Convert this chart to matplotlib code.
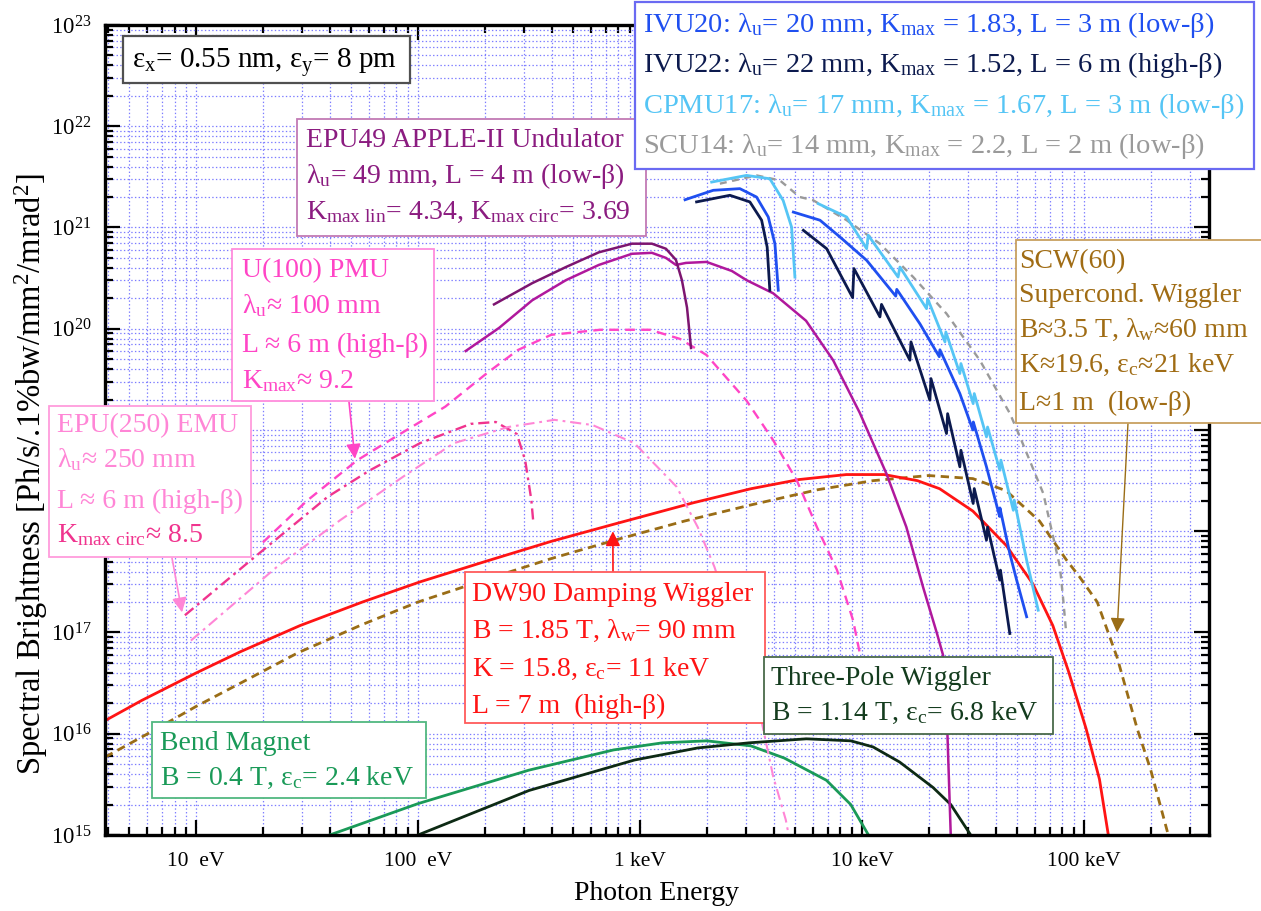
import numpy as np
import matplotlib
matplotlib.use('Agg')
import matplotlib.pyplot as plt
from matplotlib.patches import Rectangle
from matplotlib.ticker import LogLocator, NullFormatter

plt.rcParams['font.family'] = ['Liberation Serif', 'DejaVu Serif']
plt.rcParams['mathtext.fontset'] = 'custom'
plt.rcParams['mathtext.rm'] = 'Liberation Serif'
plt.rcParams['mathtext.it'] = 'Liberation Serif:italic'
plt.rcParams['lines.scale_dashes'] = False

# ---- data (photon energy in eV, brightness in Ph/s/.1%bw/mm^2/mrad^2) ----
bm_E = [40, 100, 316, 760, 1260, 2000, 3160, 4470, 6920, 8900, 10700]
bm_B = [1.0e15, 2.04e15, 4.37e15, 6.92e15, 8.13e15, 8.51e15, 7.59e15, 5.75e15, 3.47e15, 2.0e15, 1.0e15]

tpw_E = [100, 316, 944, 1820, 3090, 5620, 8910, 11220, 14790, 20890, 25120, 30900]
tpw_B = [1.0e15, 2.75e15, 5.5e15, 7.24e15, 8.13e15, 8.91e15, 8.51e15, 7.41e15, 5.25e15, 2.95e15, 2.0e15, 1.0e15]

dw90_E = [3.9, 5.71, 10, 15.85, 29.4, 56.2, 102, 200, 398, 759, 1738, 3162, 5200, 8511, 12590,
          17780, 22390, 31620, 44670, 58880, 72440, 85110, 102300, 117500, 128800]
dw90_B = [1.35e16, 2.14e16, 3.98e16, 6.46e16, 1.17e17, 2.0e17, 3.16e17, 5.01e17, 7.94e17, 1.17e18,
          1.91e18, 2.63e18, 3.24e18, 3.63e18, 3.63e18, 3.16e18, 2.63e18, 1.58e18, 7.24e17, 3.02e17,
          1.17e17, 4.17e16, 1.12e16, 3.55e15, 1.0e15]

scw_E = [3.9, 6.31, 10, 15.85, 28.8, 56.2, 100, 200, 398, 794, 1585, 3162, 6310, 11220, 19950,
         31620, 44670, 63100, 83180, 95500, 114800, 141300, 173800, 199500, 239900]
scw_B = [5.89e15, 1.05e16, 1.86e16, 3.16e16, 6.31e16, 1.2e17, 2.0e17, 3.31e17, 5.37e17, 8.32e17,
         1.26e18, 1.82e18, 2.57e18, 3.16e18, 3.55e18, 3.31e18, 2.51e18, 1.26e18, 5.25e17, 3.55e17,
         2.0e17, 5.62e16, 1.12e16, 4.47e15, 1.0e15]

epu49c_E = [220, 327, 464, 653, 920, 1132, 1309, 1452, 1545, 1629, 1698]
epu49c_B = [1.74e20, 2.82e20, 4.07e20, 5.69e20, 6.92e20, 6.92e20, 6.17e20, 4.79e20, 3.02e20, 1.62e20, 6.46e19]

epu49l_E = [164, 232, 327, 464, 653, 920, 1132, 1309, 1452, 1611, 1995, 2594, 3020, 3981, 5598,
            7413, 9772, 12880, 15850, 18840, 21780, 23170, 24270, 25120]
epu49l_B = [6.03e19, 1.02e20, 1.91e20, 3.02e20, 4.27e20, 5.5e20, 5.62e20, 5.01e20, 4.27e20, 4.47e20,
            4.57e20, 3.72e20, 3.02e20, 2.24e20, 1.2e20, 4.9e19, 1.48e19, 3.72e18, 1.1e18, 2.82e17,
            9.77e16, 6.03e16, 1.0e16, 1.0e15]

u100_E = [20, 31.6, 53.1, 85.9, 132.7, 204, 282, 398, 661, 1109, 1514, 1995, 3020, 3981, 5093,
          6266, 7709, 9120, 9772, 9950]
u100_B = [7.76e17, 2.0e18, 5.01e18, 9.55e18, 1.7e19, 3.63e19, 6.17e19, 8.71e19, 9.77e19, 9.77e19,
          7.94e19, 5.5e19, 1.95e19, 7.94e18, 3.16e18, 1.1e18, 4.17e17, 1.32e17, 6.31e16, 4.0e16]

emu_circ_E = [8.91, 17.8, 39.2, 60.5, 102, 173, 224, 279, 304, 324, 331]
emu_circ_B = [1.48e17, 5.25e17, 2.19e18, 3.98e18, 7.41e18, 1.15e19, 1.2e19, 9.12e18, 5.01e18, 2.04e18, 1.2e18]

emu_lin_E = [9.48, 23.2, 44.7, 85.9, 145, 255, 412, 611, 944, 1462, 1820, 2163, 2818, 3548, 3981, 4539, 4677]
emu_lin_B = [8.32e16, 4.47e17, 1.29e18, 3.47e18, 7.41e18, 1.07e19, 1.26e19, 1.12e19, 7.41e18, 2.75e18,
             1.1e18, 4.47e17, 7.94e16, 1.26e16, 3.8e15, 1.41e15, 1.0e15]

ivu20_E1 = [1596, 2138, 2818, 3350, 3784, 4055, 4198]
ivu20_B1 = [1.88e21, 2.33e21, 2.42e21, 2.0e21, 1.27e21, 6.9e20, 2.4e20]
ivu20_E2 = [4909, 6471, 7962, 10500, 14200, 14350, 18240, 22300, 22450, 27610, 31600, 31750, 36390,
            41700, 41850, 46350, 49770, 55210]
ivu20_B2 = [1.42e21, 1.18e21, 8.06e20, 4.74e20, 2.1e20, 2.45e20, 1.12e20, 5.3e19, 6.2e19, 2.29e19,
            1.0e19, 1.2e19, 4.33e18, 1.4e18, 1.7e18, 6.03e17, 3.29e17, 1.43e17]

ivu22_E1 = [1799, 2541, 3126, 3532, 3741, 3846]
ivu22_B1 = [1.79e21, 2.08e21, 1.79e21, 1.18e21, 6.41e20, 2.4e20]
ivu22_E2 = [5445, 6934, 9078, 9204, 12050, 12250, 16440, 16630, 20230, 20460, 24040, 24320, 27610,
            27920, 31700, 32060, 36390, 36810, 41780, 42070, 46350]
ivu22_B2 = [9.38e20, 6.18e20, 2.03e20, 3.93e20, 1.31e20, 1.74e20, 4.89e19, 7.42e19, 1.97e19, 3.22e19,
            9.23e18, 1.45e19, 4.33e18, 6.31e18, 1.88e18, 2.64e18, 8.17e17, 1.1e18, 3.29e17, 4.13e17, 9.77e16]

cpmu17_E1 = [2104, 3020, 3846, 4416, 4819, 4989]
cpmu17_B1 = [2.81e21, 3.27e21, 3.03e21, 1.85e21, 1.01e21, 3.24e20]
cpmu17_E2 = [6353, 8531, 10500, 10670, 14550, 14830, 19540, 19770, 23660, 23880, 27610, 27920, 31700,
             32060, 36390, 36810, 41780, 42270, 48080, 48530, 55210, 62230]
cpmu17_B2 = [1.72e21, 1.27e21, 6.18e20, 8.38e20, 3.24e20, 4.07e20, 1.58e20, 1.98e20, 7.41e19, 9.29e19,
             3.61e19, 4.53e19, 1.82e19, 2.29e19, 8.55e18, 1.07e19, 4.01e18, 5.04e18, 1.61e18, 2.03e18,
             5.18e17, 1.66e17]

scu14_E = [2291, 3350, 4266, 5248, 6026, 8531, 12050, 17020, 24040, 33960, 46450, 51520, 65610, 77980, 80720, 83180]
scu14_B = [2.71e21, 3.27e21, 2.92e21, 2.0e21, 1.86e21, 1.18e21, 6.92e20, 3.24e20, 1.41e20, 4.89e19,
           1.45e19, 8.55e18, 2.36e18, 4.46e17, 2.09e17, 1.0e17]

xtick_vals = [10, 100, 1e3, 1e4, 1e5]
xtick_labels = ['10  eV', '100  eV', '1 keV', '10 keV', '100 keV']
ytick_exps = [15, 16, 17, 18, 19, 20, 21, 22, 23]
hidden_exps = [18, 19]  # covered by the EPU(250) box in the original

# colours
c_blue, c_navy, c_light, c_gray = '#1f4ff0', '#0c1a4e', '#55c5f5', '#9a9a9a'
c_purple, c_magenta = '#7d1570', '#b0189c'
c_pink, c_pink_d, c_pink_l = '#ff45c6', '#f0348e', '#ff86d6'
c_red, c_brown, c_green, c_tpw = '#ff1414', '#9a6d16', '#1a9a58', '#0d2a14'

W, H = 1261, 911
fig = plt.figure(figsize=(W / 100, H / 100), dpi=100)
ax = fig.add_axes([105 / W, 1 - 835 / H, (1209 - 105) / W, (835 - 25) / H])
ax.set_xscale('log')
ax.set_yscale('log')
ax.set_xlim(3.89, 3.66e5)
ax.set_ylim(1e15, 1e23)

ax.plot(bm_E, bm_B, color=c_green, lw=2)
ax.plot(tpw_E, tpw_B, color=c_tpw, lw=2)
ax.plot(scw_E, scw_B, color=c_brown, lw=2, dashes=(6, 4))
ax.plot(dw90_E, dw90_B, color=c_red, lw=2)
ax.plot(u100_E, u100_B, color=c_pink, lw=1.7, dashes=(7, 4.5))
ax.plot(emu_circ_E, emu_circ_B, color=c_pink_d, lw=1.7, dashes=(8, 3.5, 2, 3.5))
ax.plot(emu_lin_E, emu_lin_B, color=c_pink_l, lw=1.5, dashes=(8, 3.5, 2, 3.5))
ax.plot(epu49l_E, epu49l_B, color=c_magenta, lw=1.8)
ax.plot(epu49c_E, epu49c_B, color=c_purple, lw=1.8)
ax.plot(scu14_E, scu14_B, color=c_gray, lw=1.7, dashes=(5, 4))
ax.plot(ivu20_E1, ivu20_B1, color=c_blue, lw=2)
ax.plot(ivu20_E2, ivu20_B2, color=c_blue, lw=2)
ax.plot(ivu22_E1, ivu22_B1, color=c_navy, lw=2)
ax.plot(ivu22_E2, ivu22_B2, color=c_navy, lw=2)
ax.plot(cpmu17_E1, cpmu17_B1, color=c_light, lw=2)
ax.plot(cpmu17_E2, cpmu17_B2, color=c_light, lw=2)

# axes styling
ax.set_xticks(xtick_vals)
ax.set_xticklabels(xtick_labels, fontsize=15.5)
ax.xaxis.set_minor_locator(LogLocator(base=10, subs=np.arange(2, 10), numticks=30))
ax.xaxis.set_minor_formatter(NullFormatter())
ax.set_yticks([10.0 ** e for e in ytick_exps])
ax.set_yticklabels(['' if e in hidden_exps else r'$\mathrm{10^{%d}}$' % e for e in ytick_exps],
                   fontsize=16.5)
ax.yaxis.set_minor_locator(LogLocator(base=10, subs=np.arange(2, 10), numticks=30))
ax.yaxis.set_minor_formatter(NullFormatter())
ax.tick_params(which='both', direction='in', top=True, right=True, width=1.6, colors='black')
ax.tick_params(which='major', length=11)
ax.tick_params(which='minor', length=6)
ax.tick_params(axis='x', which='major', pad=12)
ax.tick_params(axis='y', which='major', pad=10)
ax.grid(True, which='both', color='#7c7cff', linestyle=':', linewidth=0.9)
for sp in ax.spines.values():
    sp.set_linewidth(2.4)

fig.text(657 / W, 1 - 893 / H, 'Photon Energy', fontsize=20, ha='center', va='center')
fig.text(31 / W, 1 - 474 / H, 'Spectral Brightness [Ph/s/.1%bw/mm$^2$/mrad$^2$]',
         fontsize=23.5, rotation=90, ha='center', va='center')


def px(x, y):
    return x / W, 1 - y / H


def box(x0, y0, x1, y1, edge, lw=1.3):
    fig.add_artist(Rectangle(px(x0, y1), (x1 - x0) / W, (y1 - y0) / H, transform=fig.transFigure,
                             facecolor='white', edgecolor=edge, linewidth=lw, zorder=5))


def line(x, y, s, color, size=20):
    fig.text(*px(x, y), s, color=color, fontsize=size, ha='left', va='baseline', zorder=6)


def arrow(x, y, e, b, color, lw=1.2, ms=22):
    ax.annotate('', xy=(e, b), xycoords='data', xytext=(x, H - y), textcoords='figure pixels',
                arrowprops=dict(arrowstyle='-|>', color=color, lw=lw, mutation_scale=ms,
                                shrinkA=0, shrinkB=0))


arrow(349, 402, 52, 5.2e18, c_pink)
arrow(172, 558, 8.65, 1.58e17, c_pink_l)
arrow(613, 572, 755, 1.0e18, c_red)
arrow(1128, 423, 1.41e5, 1.0e17, c_brown, lw=1.0)

box(123, 36, 410, 83, '#505050', lw=1.6)
line(132, 68, r'ε$_\mathrm{x}$= 0.55 nm, ε$_\mathrm{y}$= 8 pm', 'black', size=21)

c_t = '#8b1c80'
box(297, 119, 646, 236, '#c27ab4')
line(306, 147, 'EPU49 APPLE-II Undulator', c_t)
line(306, 183, r'λ$_\mathrm{u}$= 49 mm, L = 4 m (low-β)', c_t)
line(306, 219, r'K$_\mathrm{max\ lin}$= 4.34, K$_\mathrm{max\ circ}$= 3.69', c_t)

box(635, 2, 1254, 169, '#6a6af2', lw=1.6)
line(643, 32, r'IVU20: λ$_\mathrm{u}$= 20 mm, K$_\mathrm{max}$ = 1.83, L = 3 m (low-β)', c_blue, 20.5)
line(643, 72, r'IVU22: λ$_\mathrm{u}$= 22 mm, K$_\mathrm{max}$ = 1.52, L = 6 m (high-β)', c_navy, 20.5)
line(643, 113, r'CPMU17: λ$_\mathrm{u}$= 17 mm, K$_\mathrm{max}$ = 1.67, L = 3 m (low-β)', c_light, 20.5)
line(643, 153, r'SCU14: λ$_\mathrm{u}$= 14 mm, K$_\mathrm{max}$ = 2.2, L = 2 m (low-β)', c_gray, 20.5)

box(232, 249, 434, 401, '#ff8cdc')
line(242, 277, 'U(100) PMU', c_pink)
line(242, 313, r'λ$_\mathrm{u}$≈ 100 mm', c_pink)
line(242, 352, 'L ≈ 6 m (high-β)', c_pink)
line(242, 388, r'K$_\mathrm{max}$≈ 9.2', c_pink)

box(49, 406, 251, 557, '#ff9cdc')
line(57, 432, 'EPU(250) EMU', c_pink_l)
line(57, 467, r'λ$_\mathrm{u}$≈ 250 mm', c_pink_l)
line(57, 508, 'L ≈ 6 m (high-β)', c_pink_l)
line(57, 542, r'K$_\mathrm{max\ circ}$≈ 8.5', c_pink_d)

box(465, 572, 765, 723, '#ff5a5a')
line(472, 601, 'DW90 Damping Wiggler', c_red)
line(472, 638, r'B = 1.85 T, λ$_\mathrm{w}$= 90 mm', c_red)
line(472, 676, r'K = 15.8, ε$_\mathrm{c}$= 11 keV', c_red)
line(472, 713, 'L = 7 m  (high-β)', c_red)

box(764, 657, 1053, 734, '#4a6a4a')
line(771, 685, 'Three-Pole Wiggler', '#143c1e')
line(771, 720, r'B = 1.14 T, ε$_\mathrm{c}$= 6.8 keV', '#143c1e')

box(152, 722, 426, 798, '#50b880')
line(160, 750, 'Bend Magnet', c_green)
line(160, 785, r'B = 0.4 T, ε$_\mathrm{c}$= 2.4 keV', c_green)

c_s = '#a06c14'
box(1016, 240, 1262, 423, '#c8a060')
line(1019, 268, 'SCW(60)', c_s)
line(1019, 302, 'Supercond. Wiggler', c_s)
line(1019, 337, r'B≈3.5 T, λ$_\mathrm{w}$≈60 mm', c_s)
line(1019, 372, r'K≈19.6, ε$_\mathrm{c}$≈21 keV', c_s)
line(1019, 410, 'L≈1 m  (low-β)', c_s)

fig.savefig('out.png', dpi=100)
